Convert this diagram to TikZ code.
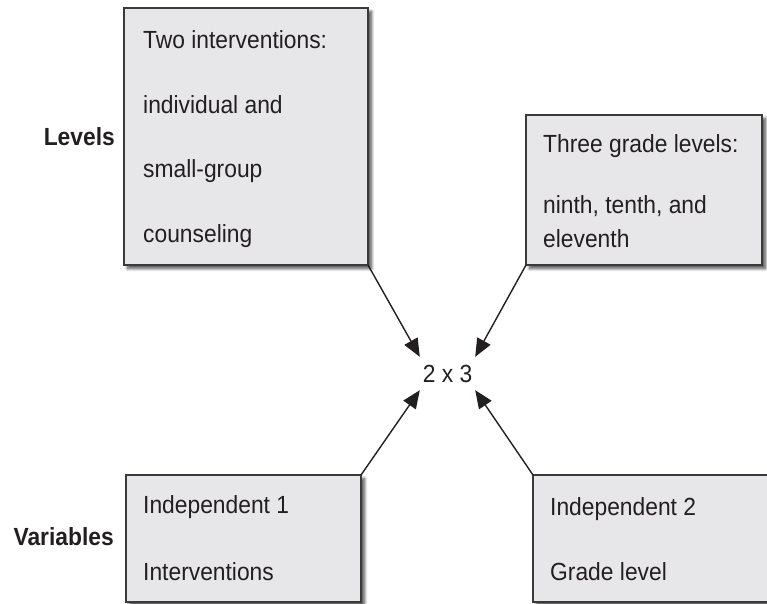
\documentclass[tikz,border=0pt]{standalone}
\usepackage{fontspec}
\setmainfont{Liberation Sans}[FakeStretch=0.92]
\usetikzlibrary{arrows.meta,shadows.blur}

\definecolor{boxfill}{HTML}{E7E7E9}
\definecolor{boxline}{HTML}{3A3A3A}
\definecolor{ink}{HTML}{231F20}

\tikzset{
  every node/.style={text=ink, font=\fontsize{24.8}{28}\selectfont},
  panel/.style={draw=boxline, line width=1.5pt, fill=boxfill, rectangle,
    inner sep=0pt, outer sep=0pt, anchor=north west,
    blur shadow={shadow xshift=3.5pt, shadow yshift=-3.5pt,
      shadow blur radius=3pt, shadow blur steps=8, shadow opacity=70}},
  line/.style={anchor=base west, inner sep=0pt},
  rowlabel/.style={anchor=base east, inner sep=0pt,
    font=\fontsize{24.8}{28}\selectfont\bfseries},
  pointer/.style={draw=ink, line width=1.4pt,
    -{Triangle[length=18pt,width=15pt]}, shorten >=0pt},
}

\begin{document}
\begin{tikzpicture}[x=1pt,y=-1pt]
\useasboundingbox (0,0) rectangle (767,603);

% the four boxes
\node[panel, minimum width=244pt, minimum height=257pt] (tl) at (124,8) {};
\node[panel, minimum width=236pt, minimum height=150pt] (tr) at (526,115) {};
\node[panel, minimum width=235pt, minimum height=127pt] (bl) at (126,475) {};
\node[panel, minimum width=250pt, minimum height=127pt] (br) at (533,475) {};

% box texts
\node[line] (tl1) at (143,48)  {Two interventions:};
\node[line] (tl2) at (143,113) {individual and};
\node[line] (tl3) at (143,177) {small-group};
\node[line] (tl4) at (143,242) {counseling};

\node[line] (tr1) at (543,152) {Three grade levels:};
\node[line] (tr2) at (543,213) {ninth, tenth, and};
\node[line] (tr3) at (543,247) {eleventh};

\node[line] (bl1) at (143,513) {Independent 1};
\node[line] (bl2) at (143,580) {Interventions};

\node[line] (br1) at (550,515) {Independent 2};
\node[line] (br2) at (550,580) {Grade level};

% row labels
\node[rowlabel] (levels) at (115,145) {Levels};
\node[rowlabel] (vars) at (114,545) {Variables};

% design in the middle
\node[inner sep=0pt, minimum width=55pt, minimum height=33pt] (mid) at (447.5,373.5) {2 x 3};

% connectors
\draw[pointer] (tl.south east) -- (mid.north west);
\draw[pointer] (tr.south west) -- (mid.north east);
\draw[pointer] (bl.north east) -- (mid.south west);
\draw[pointer] (br.north west) -- (mid.south east);
\end{tikzpicture}
\end{document}
